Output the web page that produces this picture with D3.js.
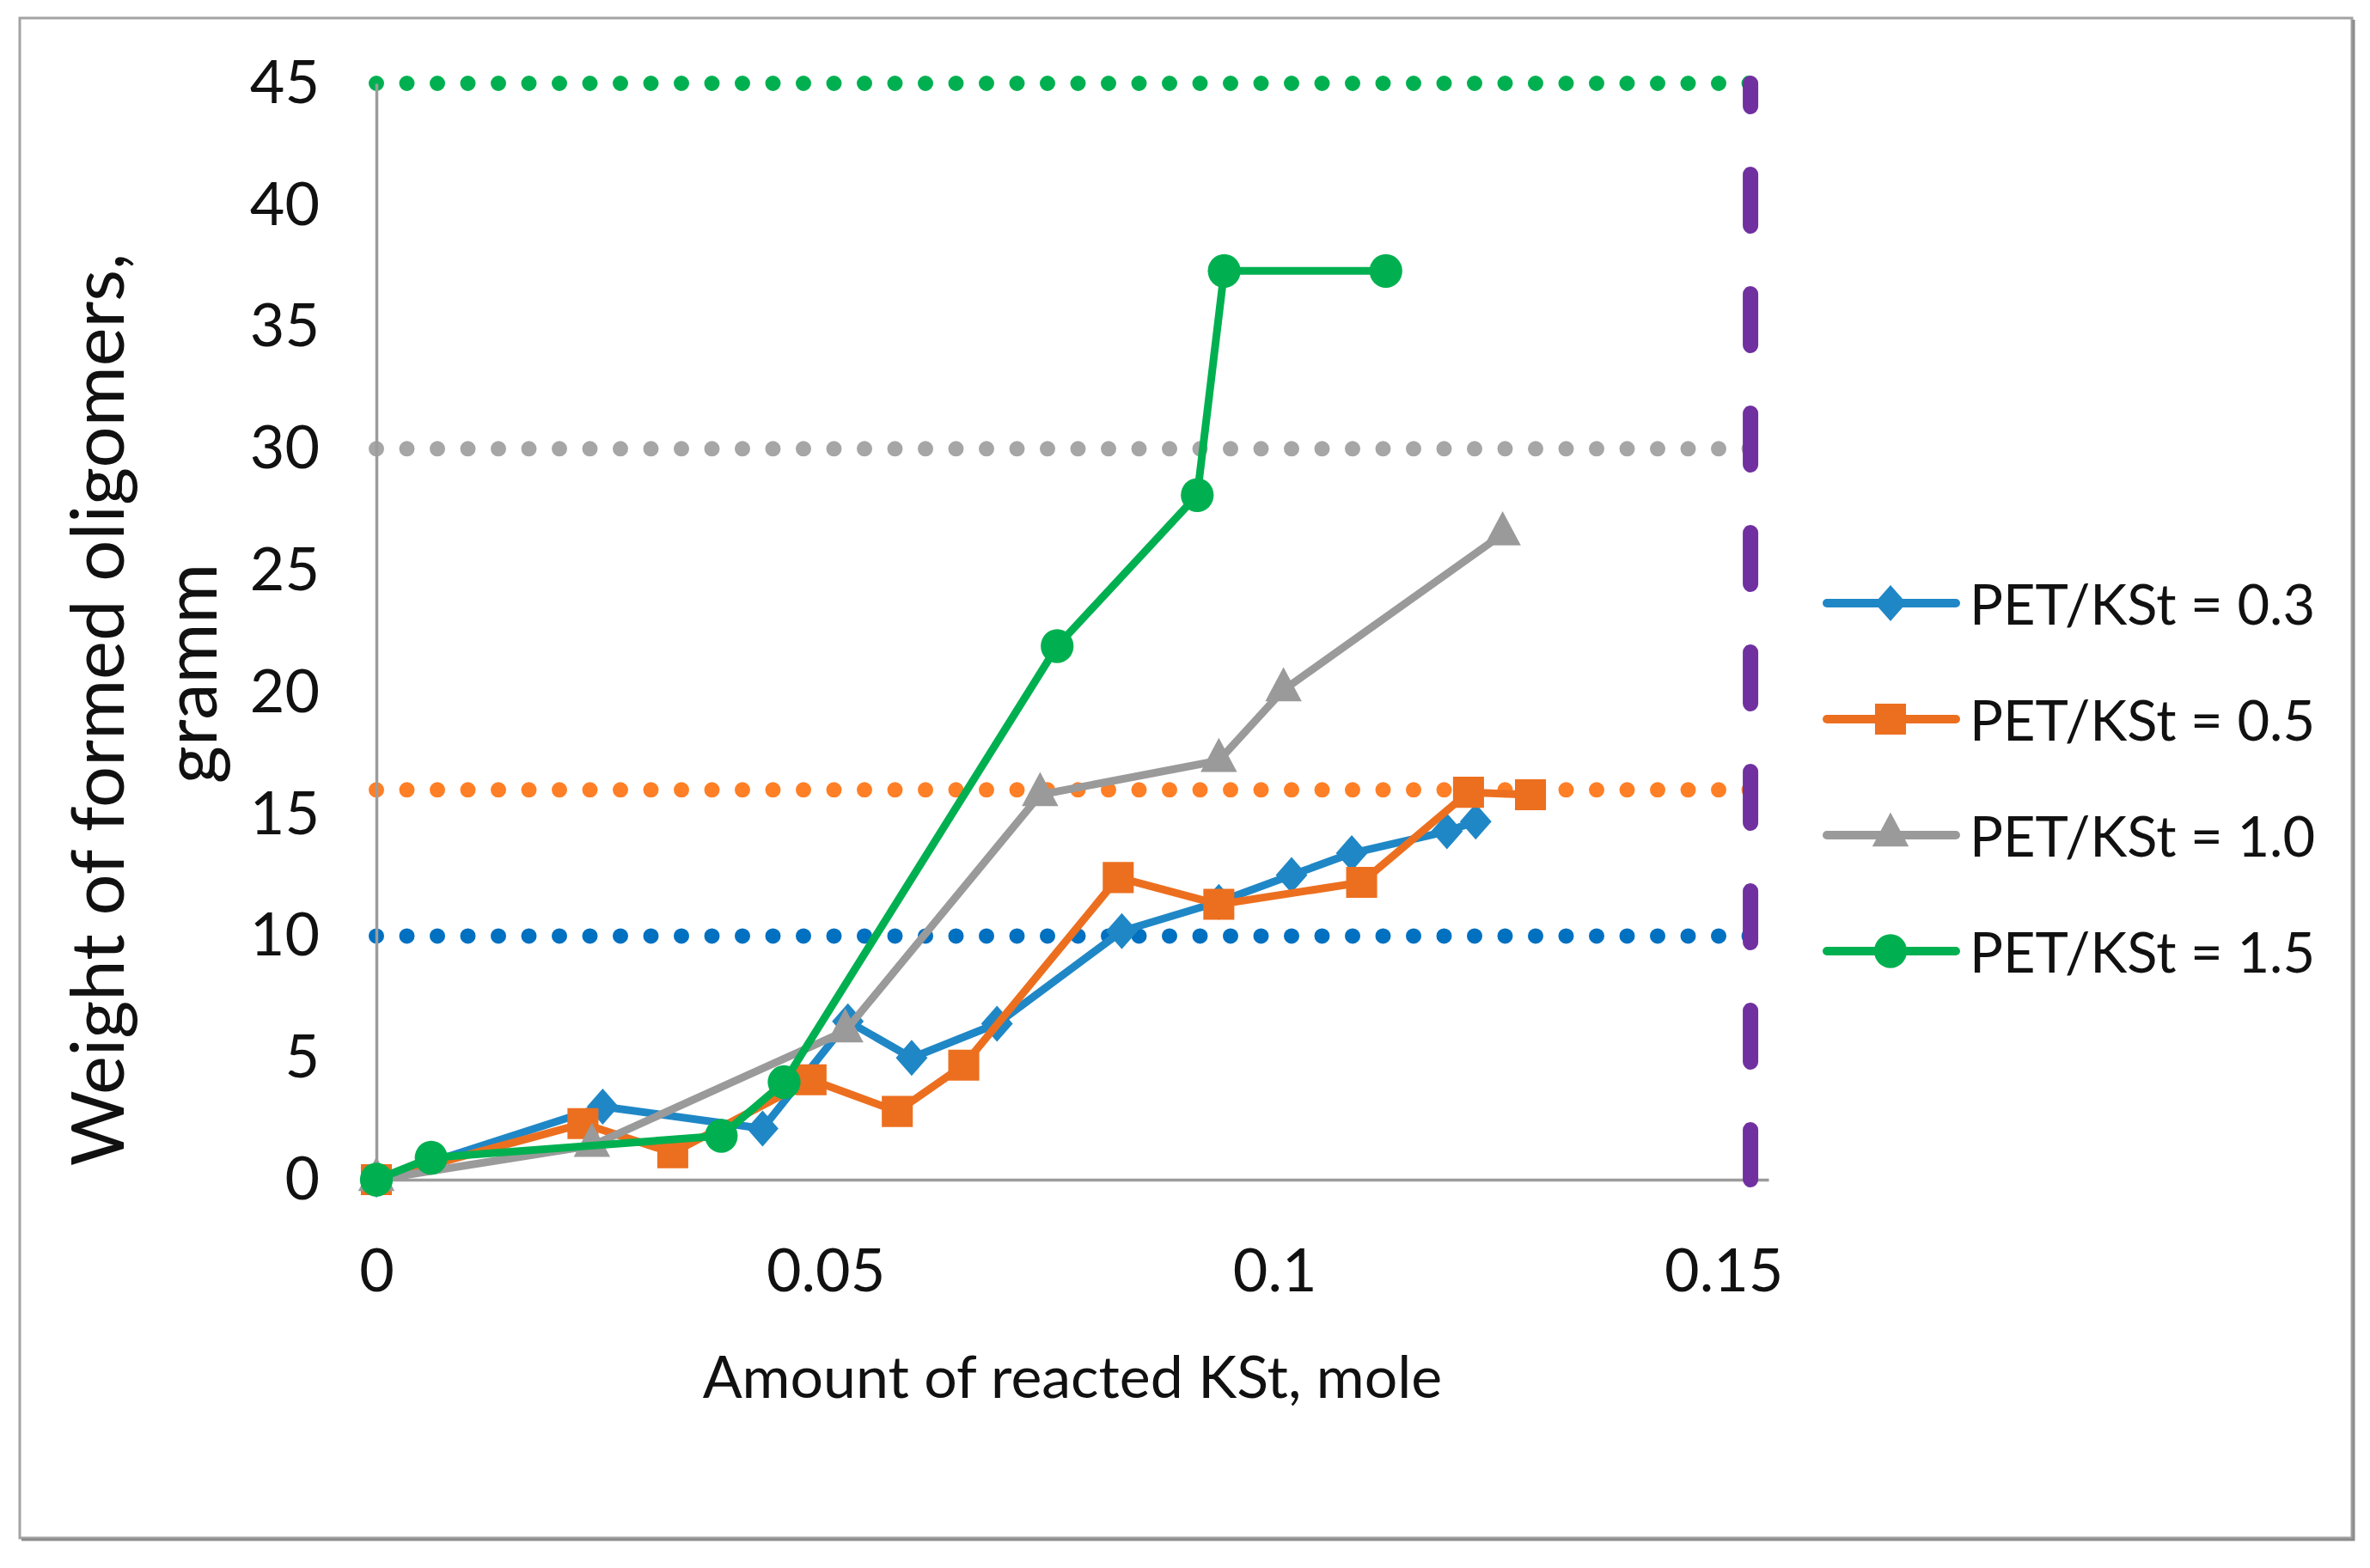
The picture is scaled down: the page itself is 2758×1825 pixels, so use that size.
<!DOCTYPE html>
<html>
<head>
<meta charset="utf-8">
<script src="https://cdn.jsdelivr.net/npm/d3@7"></script>
<style>
  body { margin: 0; background: #fff; }
  text { font-family: Lato, "Open Sans", sans-serif; fill: #111; }
</style>
</head>
<body>
<div id="chart"></div>
<script>
// Oligomer weight vs reacted KSt

// axis ticks
var xTicks = [0, 0.05, 0.1, 0.15];
var yTicks = [0, 5, 10, 15, 20, 25, 30, 35, 40, 45];

// series
var seriesNames = ["PET/KSt = 0.3", "PET/KSt = 0.5", "PET/KSt = 1.0", "PET/KSt = 1.5"];
var ratio03X = [0, 0.0252, 0.043, 0.0525, 0.0596, 0.0691, 0.083, 0.0938, 0.1019, 0.1086, 0.1192, 0.1224];
var ratio03Y = [0, 3.0, 2.1, 6.5, 5.0, 6.4, 10.2, 11.4, 12.5, 13.4, 14.3, 14.7];
var ratio05X = [0, 0.023, 0.033, 0.0484, 0.058, 0.0654, 0.0826, 0.0938, 0.1097, 0.1216, 0.1285];
var ratio05Y = [0, 2.3, 1.1, 4.1, 2.8, 4.7, 12.4, 11.3, 12.2, 15.9, 15.8];
var ratio10X = [0, 0.024, 0.0522, 0.0739, 0.0938, 0.101, 0.1254];
var ratio10Y = [0, 1.4, 6.1, 15.8, 17.2, 20.1, 26.5];
var ratio15X = [0, 0.0061, 0.0384, 0.0454, 0.0758, 0.0914, 0.0944, 0.1124];
var ratio15Y = [0, 0.9, 1.8, 4.0, 21.9, 28.1, 37.3, 37.3];

// dotted limit lines and the dashed vertical limit
var limitLevels = [10, 16, 30, 45];
var limitX = 0.153;

var yTitleLines = ["Weight of formed oligomers,", "gramm"];

var colors = ["#1f87c6", "#ec6f1f", "#9a9a9a", "#00b050"];
var limitColors = ["#0070c0", "#ff7f27", "#a6a6a6", "#00b050"];

var width = 2758, height = 1825;

var svg = d3.select("#chart").append("svg")
    .attr("width", width)
    .attr("height", height);

// outer frame
svg.append("rect")
    .attr("x", 23).attr("y", 21)
    .attr("width", 2714).attr("height", 1769)
    .attr("fill", "#fff")
    .attr("stroke", "#a3a3a3")
    .attr("stroke-width", 3);
svg.append("path")
    .attr("d", "M2739,23V1792H25")
    .attr("fill", "none")
    .attr("stroke", "#8c8c8c")
    .attr("stroke-width", 3);

var x = d3.scaleLinear().domain([0, 0.155]).range([438, 2058]);
var y = d3.scaleLinear().domain([0, 45]).range([1373, 97]);

// dotted limit lines
svg.selectAll(".limit")
    .data(limitLevels)
    .enter().append("line")
    .attr("class", "limit")
    .attr("x1", x(0))
    .attr("x2", x(limitX))
    .attr("y1", function(d) { return y(d); })
    .attr("y2", function(d) { return y(d); })
    .attr("stroke", function(d, i) { return limitColors[i]; })
    .attr("stroke-width", 18)
    .attr("stroke-linecap", "round")
    .attr("stroke-dasharray", "0,35.5");

// axes
var yAxis = svg.append("g")
    .attr("transform", "translate(" + x(0) + ",0)")
    .call(d3.axisLeft(y).tickValues(yTicks).tickSize(0).tickPadding(66));
var xAxis = svg.append("g")
    .attr("transform", "translate(0," + y(0) + ")")
    .call(d3.axisBottom(x).tickValues(xTicks).tickSize(0).tickPadding(80)
        .tickFormat(function(d) { return String(d); }));

[xAxis, yAxis].forEach(function(g) {
    g.select(".domain").attr("stroke", "#9c9c9c").attr("stroke-width", 3.5);
    g.selectAll("text")
        .style("font-family", "Lato, 'Open Sans', sans-serif")
        .style("font-size", "70px")
        .attr("fill", "#111");
});

// dashed vertical limit
svg.append("line")
    .attr("x1", x(limitX)).attr("x2", x(limitX))
    .attr("y1", y(0)).attr("y2", y(45))
    .attr("stroke", "#7030a0")
    .attr("stroke-width", 18)
    .attr("stroke-linecap", "round")
    .attr("stroke-dasharray", "60,79")
    .attr("stroke-dashoffset", 2);

// series
var allX = [ratio03X, ratio05X, ratio10X, ratio15X];
var allY = [ratio03Y, ratio05Y, ratio10Y, ratio15Y];

var symbols = [
    d3.symbol().type(d3.symbolDiamond2).size(1120),
    d3.symbol().type(d3.symbolSquare).size(1300),
    d3.symbol().type(d3.symbolTriangle).size(780),
    d3.symbol().type(d3.symbolCircle).size(1150)
];
var symbolScale = ["scale(0.88,1)", "scale(1,1)", "scale(1,1.08)", "scale(1,1.03)"];

var line = d3.line()
    .x(function(d) { return x(d[0]); })
    .y(function(d) { return y(d[1]); });

allX.forEach(function(xs, i) {
    var pts = xs.map(function(v, j) { return [v, allY[i][j]]; });
    var g = svg.append("g").attr("class", "series");
    g.append("path")
        .datum(pts)
        .attr("d", line)
        .attr("fill", "none")
        .attr("stroke", colors[i])
        .attr("stroke-width", 9)
        .attr("stroke-linejoin", "round");
    g.selectAll(".mark")
        .data(pts)
        .enter().append("path")
        .attr("class", "mark")
        .attr("d", symbols[i])
        .attr("fill", colors[i])
        .attr("transform", function(d) {
            return "translate(" + x(d[0]) + "," + y(d[1]) + ")" + symbolScale[i];
        });
});

// axis titles
svg.append("text")
    .attr("x", x(0.0775))
    .attr("y", 1627)
    .attr("text-anchor", "middle")
    .style("font-size", "68px")
    .text("Amount of reacted KSt, mole");

// y title: two lines, each centred on its own measured length
var yTitleBase = [144, 252];
var yTitleMid = [826, 784];
yTitleLines.forEach(function(t, i) {
    var el = svg.append("text")
        .style("font-size", "85px")
        .text(t);
    var len = el.node().getComputedTextLength();
    el.attr("transform", "translate(" + yTitleBase[i] + "," + (yTitleMid[i] + len / 2) + ") rotate(-90)");
});

// legend
var legend = svg.selectAll("g.legend")
    .data(seriesNames)
    .enter().append("g")
    .attr("class", "legend")
    .attr("transform", function(d, i) { return "translate(2126," + (702 + i * 135) + ")"; });

legend.append("line")
    .attr("x1", 0).attr("x2", 150)
    .attr("stroke", function(d, i) { return colors[i]; })
    .attr("stroke-width", 10)
    .attr("stroke-linecap", "round");

legend.append("path")
    .attr("d", function(d, i) { return symbols[i](); })
    .attr("fill", function(d, i) { return colors[i]; })
    .attr("transform", function(d, i) { return "translate(74,0)" + symbolScale[i]; });

legend.append("text")
    .attr("x", 166)
    .attr("y", 25)
    .style("font-size", "65px")
    .text(function(d) { return d; });
</script>
</body>
</html>
